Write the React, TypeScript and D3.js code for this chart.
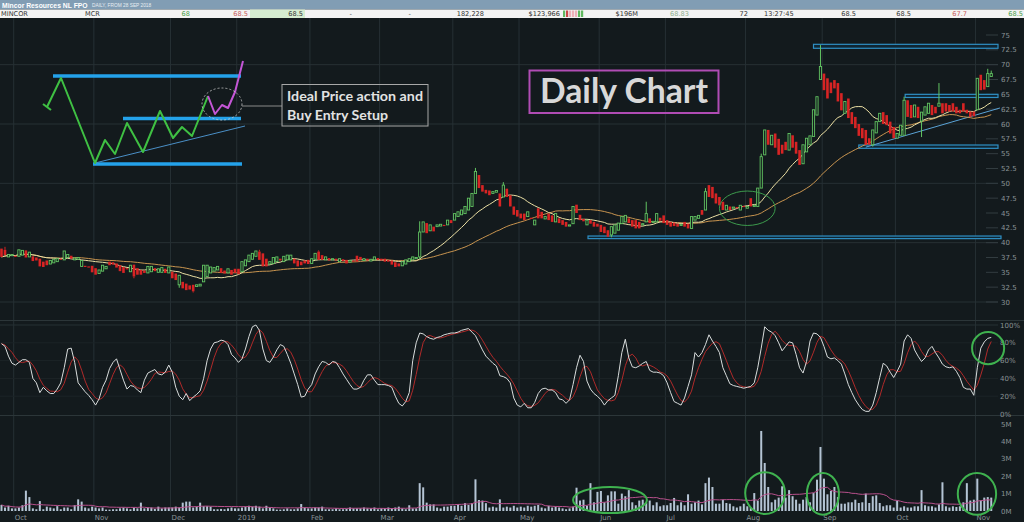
import React from "react";
import * as d3 from "d3";

// MCR daily candles, 25 Sep 2018 .. 7 Nov 2019 (one row per month)
const opens = [
  39.0, 38.8, 37.6, 37.9,
  37.8, 37.7, 37.9, 38.7, 37.6, 37.7, 37.5, 37.3, 36.8, 37.0, 36.4, 36.6, 36.8, 37.3, 37.1, 37.5, 37.8, 37.1, 37.2, 36.0, 36.1, 36.0, 36.1,
  35.7, 34.8, 35.2, 35.6, 36.8, 36.7, 36.5, 36.2, 35.9, 35.7, 35.1, 36.3, 35.7, 35.4, 35.3, 34.9, 35.1, 35.7, 35.0, 35.0, 35.6, 34.9,
  35.1, 34.8, 32.9, 33.4, 33.1, 32.8, 32.9, 32.6, 32.7, 33.4, 34.3, 34.9, 35.2, 35.4, 35.7, 35.3, 34.9, 35.4, 35.6,
  35.6, 35.1, 36.1, 36.8, 37.2, 37.7, 38.5, 38.2, 37.3, 36.4, 36.5, 36.8, 37.3, 36.8, 37.1, 37.1, 37.3, 37.0, 36.8, 37.0, 37.1,
  36.5, 37.2, 38.5, 37.9, 37.1, 37.4, 37.1, 37.3, 36.8, 37.2, 37.1, 36.7, 37.0, 37.8, 37.6, 37.0, 37.3, 36.9, 37.1, 37.4,
  37.3, 37.3, 37.1, 37.0, 36.7, 36.5, 36.1, 36.4, 36.8, 37.1, 37.3, 37.6, 41.8, 43.3, 42.0, 42.7, 42.7, 42.8, 43.0, 43.0, 43.8,
  43.8, 44.4, 44.7, 44.9, 45.5, 46.1, 48.3, 51.4, 49.7, 48.9, 48.8, 48.3, 48.5, 48.3, 47.7, 49.1, 48.0, 46.1, 45.5,
  44.9, 44.9, 44.4, 44.2, 43.0, 45.8, 45.2, 44.0, 44.9, 44.6, 43.5, 44.1, 43.8, 43.5, 42.8, 43.2, 46.4, 44.7, 44.0, 43.0, 43.8, 43.5, 43.2,
  43.0, 42.7, 42.1, 41.3, 41.6, 42.1, 43.2, 43.5, 44.1, 43.8, 43.8, 43.5, 43.0, 43.5, 44.1, 43.4, 43.5, 44.2, 44.6,
  43.8, 43.5, 43.4, 43.2, 43.0, 43.5, 43.2, 42.4, 43.8, 44.1, 45.5, 45.5, 49.7, 49.4, 48.3, 47.7, 46.9, 45.5, 46.1, 45.8, 46.0, 45.5, 46.2,
  45.8, 47.5, 46.1, 46.1, 49.2, 54.8, 59.0, 56.5, 58.4, 57.5, 56.5, 57.0, 55.6, 58.1, 57.0, 55.6, 53.3, 55.3, 56.5, 57.9, 61.5, 67.5,
  68.5, 67.7, 67.0, 67.4, 66.9, 65.2, 61.8, 64.3, 62.0, 61.2, 60.0, 59.3, 59.0, 57.6, 56.5, 58.5, 60.4, 62.0, 61.5, 60.4, 59.5,
  57.6, 58.1, 58.1, 64.0, 63.2, 61.2, 62.9, 60.5, 61.5, 61.8, 63.2, 62.9, 63.0, 63.5, 63.5, 63.2, 63.5, 62.9, 62.4, 63.5, 62.4, 62.1, 62.1,
  62.4, 68.3, 67.4, 66.3, 68.0,
];

const closes = [
  37.6, 37.9, 38.0, 38.0,
  37.6, 38.8, 38.7, 37.5, 38.4, 36.9, 37.0, 36.0, 35.9, 36.2, 37.0, 37.2, 37.3, 37.1, 38.6, 38.0, 37.3, 37.4, 37.5, 37.0, 35.9, 35.9, 35.0,
  34.6, 35.4, 36.2, 36.0, 36.2, 36.3, 35.8, 35.2, 34.9, 35.6, 36.2, 34.3, 34.6, 34.6, 34.9, 36.0, 36.0, 35.2, 35.6, 35.8, 34.9, 35.9,
  34.0, 33.7, 34.5, 32.3, 32.0, 32.1, 31.8, 32.9, 33.0, 36.2, 36.2, 35.9, 35.8, 36.0, 34.9, 34.8, 35.6, 34.6, 34.9,
  34.7, 36.8, 37.1, 37.9, 38.2, 38.6, 37.1, 36.0, 36.0, 36.8, 37.5, 37.6, 37.0, 37.7, 37.9, 37.9, 36.5, 36.0, 36.2, 36.5, 36.4,
  37.3, 38.2, 37.1, 37.1, 37.6, 37.0, 37.3, 37.0, 37.3, 36.9, 36.5, 37.0, 36.8, 36.8, 37.1, 37.3, 37.0, 37.2, 37.6, 37.1,
  37.0, 36.8, 36.8, 36.3, 35.9, 36.0, 36.8, 37.1, 37.3, 37.6, 37.5, 41.8, 43.5, 41.6, 43.0, 41.9, 43.0, 43.1, 42.8, 43.8, 43.3,
  44.9, 45.2, 45.5, 46.1, 47.5, 48.3, 52.0, 49.2, 48.6, 48.3, 48.0, 48.6, 48.8, 46.1, 49.7, 47.7, 46.1, 44.7, 44.4,
  44.1, 43.8, 45.2, 44.0, 43.8, 44.1, 44.1, 44.4, 43.8, 43.5, 44.9, 43.3, 43.0, 42.7, 43.0, 46.1, 45.0, 43.8, 43.6, 43.8, 43.2, 42.7, 42.7,
  41.8, 41.6, 41.0, 42.7, 43.0, 43.3, 44.4, 44.6, 43.3, 42.7, 42.4, 42.4, 43.2, 44.9, 43.3, 43.6, 44.9, 43.7, 43.3,
  43.0, 42.7, 42.8, 42.7, 43.1, 42.7, 42.4, 44.4, 44.4, 44.6, 44.7, 48.6, 47.7, 47.5, 46.6, 46.3, 45.5, 46.3, 45.5, 46.0, 45.8, 46.3, 46.0,
  46.1, 46.1, 46.3, 49.2, 54.5, 59.0, 56.5, 58.1, 56.0, 54.8, 55.0, 55.6, 58.4, 56.0, 55.0, 53.1, 56.5, 57.6, 58.0, 62.4, 64.6, 69.7,
  65.7, 64.3, 65.2, 66.0, 63.8, 62.3, 63.8, 61.0, 60.0, 59.3, 58.0, 57.6, 56.5, 56.5, 59.0, 60.4, 61.8, 60.0, 59.8, 58.4, 57.6,
  58.4, 59.8, 64.0, 61.2, 61.0, 63.2, 61.0, 62.0, 62.9, 63.5, 61.5, 61.8, 63.5, 61.8, 62.1, 62.1, 62.1, 61.8, 61.8, 62.1, 61.8, 61.2, 61.3,
  67.7, 65.7, 65.8, 68.5, 68.5,
];

// visible wicks [day, price]
const highs = [[1, 39.3], [74, 38.8], [91, 38.7], [120, 43.6], [136, 52.6], [144, 50.2], [185, 46.9], [202, 49.2], [218, 55.0], [235, 73.3], [259, 64.6], [269, 66.9], [283, 69.3], [284, 69.0]];
const lows = [[38, 34.0], [51, 32.4], [55, 31.6], [120, 37.2], [175, 40.9], [250, 56.2], [264, 57.8]];

// slow stochastic %K
const stochK = [
  79, 76, 65, 57,
  55, 58, 61, 61, 58, 40, 35, 24, 30, 26, 23, 23, 28, 35, 52, 73, 74, 58, 35, 30, 25, 21, 16,
  10, 17, 30, 38, 51, 58, 62, 50, 38, 28, 32, 31, 27, 24, 38, 46, 48, 50, 45, 44, 47, 55,
  47, 30, 20, 16, 23, 15, 19, 22, 26, 40, 60, 73, 80, 81, 83, 82, 78, 67, 63,
  58, 62, 73, 87, 98, 100, 94, 73, 60, 58, 64, 72, 78, 76, 67, 57, 45, 33, 19, 20, 28,
  33, 45, 53, 59, 58, 55, 59, 58, 52, 45, 39, 33, 28, 28, 30, 38, 44, 44, 38, 33,
  33, 33, 32, 30, 20, 12, 9, 14, 24, 60, 80, 91, 90, 87, 85, 84, 86, 87, 89, 90, 91,
  91, 92, 94, 95, 96, 92, 88, 80, 72, 65, 61, 57, 54, 43, 42, 40, 35, 18, 10,
  8, 12, 7, 7, 13, 23, 28, 29, 27, 27, 24, 17, 16, 12, 16, 33, 52, 66, 59, 37, 28, 23, 20,
  16, 10, 15, 18, 21, 43, 69, 84, 63, 53, 52, 54, 57, 59, 49, 47, 47, 46, 43,
  35, 24, 14, 12, 10, 18, 31, 44, 69, 64, 69, 78, 89, 82, 76, 69, 52, 43, 34, 32, 31, 30, 29,
  30, 31, 35, 52, 74, 98, 94, 92, 88, 80, 71, 76, 81, 80, 67, 52, 46, 59, 82, 91, 90, 86,
  76, 64, 62, 63, 60, 56, 45, 33, 24, 16, 10, 5, 3, 3, 10, 24, 41, 57, 54, 47, 41,
  48, 56, 82, 89, 85, 72, 65, 59, 63, 72, 76, 69, 63, 56, 53, 52, 53, 48, 41, 30, 28, 28, 21,
  52, 74, 81, 85, 86,
];

// volume, millions of shares
const volumes = [
  0.35, 0.2, 0.3, 0.15,
  0.15, 0.2, 0.33, 1.17, 0.8, 0.15, 0.1, 0.57, 0.1, 0.25, 0.2, 0.15, 0.28, 0.1, 0.2, 0.2, 0.1, 0.33, 0.67, 0.54, 0.2, 0.15, 0.25,
  0.2, 0.15, 0.2, 0.08, 0.08, 0.1, 0.1, 0.15, 0.2, 0.15, 0.1, 0.2, 0.15, 0.48, 0.15, 0.2, 0.2, 0.12, 0.25, 0.15, 0.2, 0.2,
  0.2, 0.25, 0.2, 0.48, 0.54, 0.54, 0.2, 0.25, 0.48, 0.28, 0.28, 0.25, 0.1, 0.1, 0.12, 0.1, 0.15, 0.2, 0.15,
  0.15, 0.2, 0.25, 0.3, 0.25, 0.3, 0.25, 0.15, 0.3, 0.2, 0.15, 0.08, 0.08, 0.1, 0.15, 0.1, 0.1, 0.15, 0.4, 0.2, 0.15,
  0.15, 0.2, 0.2, 0.25, 0.1, 0.1, 0.1, 0.15, 0.1, 0.1, 0.12, 0.2, 0.15, 0.15, 0.15, 0.2, 0.15, 0.15, 0.2, 0.1,
  0.15, 0.15, 0.2, 0.15, 0.2, 0.25, 0.15, 0.1, 0.33, 0.15, 0.15, 1.6, 1.36, 0.48, 0.38, 0.38, 0.2, 0.15, 0.25, 0.25, 0.3,
  0.3, 0.4, 0.3, 0.45, 0.35, 0.45, 1.82, 0.63, 0.6, 0.45, 0.2, 0.25, 0.2, 0.67, 0.2, 0.25, 0.2, 0.3, 0.2,
  0.25, 0.2, 0.3, 0.25, 0.3, 0.35, 0.2, 0.15, 0.3, 0.2, 0.25, 0.2, 0.15, 0.1, 0.15, 0.25, 1.34, 0.6, 0.65, 0.3, 1.6, 0.5, 1.1,
  1.15, 0.5, 0.9, 1.13, 1.13, 0.42, 1.0, 0.85, 1.2, 0.5, 0.33, 0.6, 0.65, 0.46, 0.6, 0.33, 0.5, 0.27, 0.33,
  0.33, 0.46, 0.75, 0.33, 0.5, 0.33, 0.96, 0.42, 0.5, 0.6, 0.38, 1.6, 1.92, 1.38, 0.42, 0.42, 0.65, 0.46, 0.42, 0.27, 0.2, 0.27, 0.42,
  0.27, 0.2, 1.03, 0.6, 4.6, 2.76, 1.38, 0.5, 0.65, 0.77, 1.42, 0.77, 1.2, 0.85, 0.65, 0.42, 0.65, 0.8, 0.5, 1.03, 1.8, 3.68,
  1.86, 0.96, 1.15, 1.38, 0.8, 0.42, 0.42, 0.5, 0.5, 0.65, 0.46, 0.5, 1.0, 0.46, 0.85, 0.9, 0.46, 0.27, 0.33, 0.33, 0.2,
  0.6, 0.2, 0.27, 0.2, 0.2, 0.27, 0.27, 1.2, 0.33, 0.27, 0.27, 0.2, 0.38, 1.65, 0.27, 0.2, 0.27, 0.23, 0.27, 0.5, 1.6, 0.6, 0.65,
  1.86, 0.6, 0.77, 0.8, 0.77,
];

const monthLabels = ["Oct", "Nov", "Dec", "2019", "Feb", "Mar", "Apr", "May", "Jun", "Jul", "Aug", "Sep", "Oct", "Nov"];
const monthStarts = [4, 27, 49, 68, 89, 109, 130, 149, 172, 191, 214, 236, 257, 280];
const priceTicks = d3.range(30, 75.01, 2.5);
const stochTicks = [0, 20, 40, 60, 80, 100];
const volTicks = [0, 1, 2, 3, 4, 5];

// drawn support / resistance zones [fromDay, priceTop, priceBottom]
const zones = [[233, 73.43, 72.76], [259.3, 65.0, 64.47], [246, 56.46, 55.9], [168.3, 41.12, 40.68]];
const trend = [[248, 56.1], [286.5, 62.7]];
// green circles: [day, value, radiusDays, radiusValue]
const priceRing = [214, 45.8, 8, 2.9];
const stochRing = [283.1, 74, 4.6, 18];
const volRings = [[174.6, 0.63, 10.6, 0.75], [219.1, 1.03, 5.7, 1.2], [235.7, 0.98, 4.6, 1.2], [279.9, 0.98, 5.5, 1.2]];

// hand sketch top-left (pixel drawing)
const sketchGreen = [[47, 107], [61, 78], [95, 163], [105, 140], [115, 154], [127, 123], [143, 152], [160, 111], [173, 138], [182, 127], [192, 136], [208, 96]];
const sketchPink = [[208, 96], [215, 114], [222, 105], [228, 108], [235, 92], [243, 61]];
const sketchBars = [[53, 241, 76], [123, 241, 118.5], [93, 242, 164]];

const headerCells = [
  { t: "MINCOR", x: 1, a: "start", c: "#333" },
  { t: "MCR", x: 85, a: "start", c: "#333" },
  { t: "68", x: 190, a: "end", c: "#49a049" },
  { t: "68.5", x: 248, a: "end", c: "#c85a5a" },
  { t: "68.5", x: 303, a: "end", c: "#333" },
  { t: "-", x: 352, a: "end", c: "#333" },
  { t: "-", x: 411, a: "end", c: "#333" },
  { t: "182,228", x: 484, a: "end", c: "#333" },
  { t: "$123,966", x: 560, a: "end", c: "#333" },
  { t: "$196M", x: 638, a: "end", c: "#333" },
  { t: "68.83", x: 689, a: "end", c: "#8fb08f" },
  { t: "72", x: 748, a: "end", c: "#333" },
  { t: "13:27:45", x: 764, a: "start", c: "#333" },
  { t: "68.5", x: 856, a: "end", c: "#333" },
  { t: "68.5", x: 911, a: "end", c: "#333" },
  { t: "67.7", x: 967, a: "end", c: "#c85a5a" },
  { t: "68.5", x: 1023, a: "end", c: "#49a049" },
];

const STEP = 3.485;
const BG = "#131a1d";
const GRID = "#263034";
const AXIS = "#8a9397";
const font = "'DejaVu Sans', sans-serif";

const sma = (arr, n) => arr.map((_, i) => d3.mean(arr.slice(Math.max(0, i - n + 1), i + 1)));

export default function App() {
  const N = closes.length;
  const x = d3.scaleLinear().domain([0, N - 1]).range([1.5, 1.5 + STEP * (N - 1)]);
  const yP = d3.scaleLinear().domain([30, 75]).range([302, 35]);
  const yS = d3.scaleLinear().domain([0, 100]).range([414, 325]);
  const yV = d3.scaleLinear().domain([0, 5]).range([511, 424]);

  const maFast = sma(closes, 15);
  const maSlow = sma(closes, 40);
  const stochD = sma(stochK, 4);
  const volMa = sma(volumes, 20);

  const path = (vals, y) => d3.line().x((_, i) => x(i)).y((d) => y(d))(vals);
  const poly = d3.line();
  const gridX = monthStarts.map((m) => x(m) - STEP / 2);
  const right = 998;

  return (
    <svg width={1024} height={522} style={{ position: "fixed", left: 0, top: 0, background: BG }} fontFamily={font}>
      <rect width={1024} height={522} fill={BG} />

      {/* header */}
      <rect x={0} y={0} width={1024} height={9.5} fill="#819db4" />
      <text x={2} y={7.5} fontFamily="'Liberation Sans', sans-serif" fontSize={6.8} fontWeight="bold" fill="#fff">Mincor Resources NL FPO</text>
      <text x={92} y={7.1} fontFamily="'Liberation Sans', sans-serif" fontSize={4.8} fill="#e8eef3">DAILY, FROM 28 SEP 2018</text>
      <rect x={0} y={9.5} width={1024} height={8.5} fill="#f3f3f3" />
      <rect x={250} y={9.5} width={55} height={8.5} fill="#d5ecd0" />
      {[563, 566, 569, 572, 575, 578, 581].map((bx, k) => (
        <rect key={k} x={bx} y={10.5} width={2.2} height={6.5} fill={k < 1 || k > 4 ? "#5fb85f" : k === 1 ? "#c84848" : "#f0b0b8"} />
      ))}
      {headerCells.map((h, k) => (
        <text key={k} x={h.x} y={16.3} fontSize={6.6} fill={h.c} textAnchor={h.a}>{h.t}</text>
      ))}

      {/* grid */}
      {gridX.map((gx, k) => (
        <line key={k} x1={gx} x2={gx} y1={18} y2={512} stroke={GRID} strokeWidth={1} />
      ))}
      {[30, 40, 50, 60, 70].map((p) => (
        <line key={p} x1={0} x2={right} y1={yP(p)} y2={yP(p)} stroke={GRID} />
      ))}
      {[20, 40, 60, 80].map((s) => (
        <line key={s} x1={0} x2={right} y1={yS(s)} y2={yS(s)} stroke="#1c2427" />
      ))}
      <line x1={0} x2={right} y1={yS(100)} y2={yS(100)} stroke={GRID} />
      <line x1={0} x2={1024} y1={320.5} y2={320.5} stroke="#2c3639" />
      <line x1={0} x2={1024} y1={415.5} y2={415.5} stroke="#2c3639" />

      {/* axes */}
      {priceTicks.map((p) => (
        <g key={p}>
          <line x1={986} x2={998} y1={yP(p)} y2={yP(p)} stroke="#323c40" />
          <text x={1001} y={yP(p) + 2.5} fontSize={7} fill={AXIS}>{p % 1 === 0 ? p : p.toFixed(1)}</text>
        </g>
      ))}
      {stochTicks.map((s) => (
        <text key={s} x={1000} y={yS(s) + 2.5} fontSize={7} fill={AXIS}>{s}%</text>
      ))}
      {volTicks.map((v) => (
        <text key={v} x={1001} y={yV(v) + 2.5} fontSize={7} fill={AXIS}>{v}M</text>
      ))}
      {monthLabels.map((m, k) => (
        <text key={k} x={gridX[k] + 1} y={520} fontSize={7} fill={AXIS}>{m}</text>
      ))}

      {/* zones */}
      {zones.map(([d, pt, pb], k) => (
        <rect key={k} x={x(d)} y={yP(pt)} width={(k === 3 ? 1001 : right) - x(d)} height={yP(pb) - yP(pt)} fill="#0f2633" stroke="#2f8fc4" strokeWidth={1.2} />
      ))}
      <line x1={x(trend[0][0])} y1={yP(trend[0][1])} x2={x(trend[1][0])} y2={yP(trend[1][1])} stroke="#5aa3d6" strokeWidth={1} />

      {/* moving averages */}
      <path d={path(maSlow, yP)} fill="none" stroke="#c8944f" strokeWidth={1} />
      <path d={path(maFast, yP)} fill="none" stroke="#ece0a4" strokeWidth={1} />

      {/* candles */}
      {highs.map(([d, p], k) => {
        const up = closes[d] >= opens[d];
        return <line key={"h" + k} x1={x(d)} x2={x(d)} y1={yP(p)} y2={yP(Math.max(opens[d], closes[d]))} stroke={up ? "#62c462" : "#d82424"} />;
      })}
      {lows.map(([d, p], k) => {
        const up = closes[d] >= opens[d];
        return <line key={"l" + k} x1={x(d)} x2={x(d)} y1={yP(p)} y2={yP(Math.min(opens[d], closes[d]))} stroke={up ? "#62c462" : "#d82424"} />;
      })}
      {closes.map((c, i) => {
        const o = opens[i];
        const up = c >= o;
        const top = yP(Math.max(o, c));
        const h = Math.max(1.2, yP(Math.min(o, c)) - top);
        return up ? (
          <rect key={i} x={x(i) - 1.1} y={top} width={2.2} height={h} fill={BG} stroke="#62c462" strokeWidth={0.9} />
        ) : (
          <rect key={i} x={x(i) - 1.3} y={top} width={2.6} height={h} fill="#d82424" />
        );
      })}
      <ellipse cx={x(priceRing[0])} cy={yP(priceRing[1])} rx={x(priceRing[2]) - x(0)} ry={yP(0) - yP(priceRing[3])} fill="none" stroke="#3c9a4c" strokeWidth={1} />

      {/* stochastic */}
      <path d={path(stochD, yS)} fill="none" stroke="#b02a2a" strokeWidth={1} />
      <path d={path(stochK, yS)} fill="none" stroke="#d8dcdc" strokeWidth={1} />
      <ellipse cx={x(stochRing[0])} cy={yS(stochRing[1])} rx={x(stochRing[2]) - x(0)} ry={yS(0) - yS(stochRing[3])} fill="none" stroke="#3fb24f" strokeWidth={2} />

      {/* volume */}
      {volumes.map((v, i) => (
        <rect key={i} x={x(i) - 1} y={yV(v)} width={2} height={yV(0) - yV(v)} fill="#b4c4d4" />
      ))}
      <path d={path(volMa, yV)} fill="none" stroke="#b8508c" strokeWidth={1} />
      {volRings.map(([d, v, rd, rv], k) => (
        <ellipse key={k} cx={x(d)} cy={yV(v)} rx={x(rd) - x(0)} ry={yV(0) - yV(rv)} fill="none" stroke="#3fb24f" strokeWidth={2} />
      ))}

      {/* sketch */}
      {sketchBars.map(([x1, x2, y], k) => (
        <line key={k} x1={x1} x2={x2} y1={y} y2={y} stroke="#24a2ea" strokeWidth={3.5} />
      ))}
      <line x1={95} y1={163} x2={245} y2={126} stroke="#4a8fc6" strokeWidth={1} />
      <path d={poly([[43, 104], [51, 110]])} stroke="#3fc043" strokeWidth={2} fill="none" />
      <path d={poly(sketchGreen)} stroke="#3fc043" strokeWidth={2} fill="none" strokeLinejoin="round" />
      <path d={poly(sketchPink)} stroke="#c456d6" strokeWidth={2} fill="none" strokeLinejoin="round" />
      <ellipse cx={222} cy={104} rx={20} ry={16} fill="none" stroke="#c8c8c8" strokeWidth={0.8} strokeDasharray="2,2" />
      <line x1={242} y1={106} x2={282} y2={106} stroke="#8a8a8a" />
      <rect x={282} y={84.5} width={146} height={41.5} fill="none" stroke="#a8a8a8" />
      <text x={287} y={100.5} fontFamily="Lato, sans-serif" fontWeight="bold" fontSize={14} fill="#e2e2e2" textLength={136} lengthAdjust="spacingAndGlyphs">Ideal Price action and</text>
      <text x={287} y={119.5} fontFamily="Lato, sans-serif" fontWeight="bold" fontSize={14} fill="#e2e2e2" textLength={101} lengthAdjust="spacingAndGlyphs">Buy Entry Setup</text>

      <rect x={529.5} y={70.5} width={189} height={42.5} fill="none" stroke="#b04cb4" strokeWidth={2} />
      <text x={540} y={103} fontFamily="Lato, sans-serif" fontWeight="bold" fontSize={34} fill="#d8d8d8" textLength={168} lengthAdjust="spacingAndGlyphs">Daily Chart</text>
    </svg>
  );
}
